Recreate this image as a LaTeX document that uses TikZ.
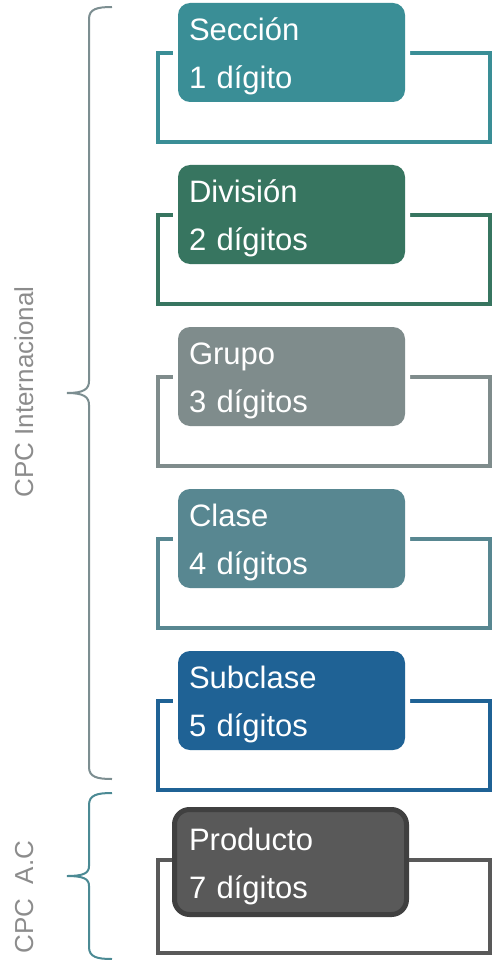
\documentclass[tikz,border=0pt]{standalone}
\usepackage{fontspec}
\setmainfont{Liberation Sans}
\definecolor{secc}{HTML}{3A8E96}
\definecolor{divc}{HTML}{377560}
\definecolor{grpc}{HTML}{7F8C8C}
\definecolor{clac}{HTML}{588791}
\definecolor{subc}{HTML}{1F6295}
\definecolor{proc}{HTML}{595959}
\definecolor{proline}{HTML}{404040}
\definecolor{labelgray}{HTML}{8C8C8C}
\definecolor{braceint}{HTML}{7C8E91}
\definecolor{braceac}{HTML}{4B8A94}
\begin{document}
\begin{tikzpicture}[
		x=1pt, y=-1pt,
		cpcbox/.style={rectangle, text=white, align=left, text height=31pt,
				font=\fontsize{31}{48}\selectfont},
		lvlbox/.style={cpcbox, fill=#1, rounded corners=12pt, text width=205pt, inner xsep=11pt,
				minimum height=99pt, preaction={draw=white, line width=10pt}},
		lvlframe/.style={rectangle, draw=#1, line width=4.5pt, minimum width=332pt,
				minimum height=89pt, inner sep=0pt},
		lbl/.style={rotate=90, anchor=base, text=labelgray, font=\fontsize{26}{30}\selectfont},
		brace/.style={draw=#1, line width=2pt}
	]
	\useasboundingbox (0,0) rectangle (492,960);
	% CPC Internacional
	\node[lvlframe=secc] (secF) at (324,97.5) {};
	\node[lvlbox=secc] (sec) at (291.5,52.5) {Sección\\1 dígito};
	\node[lvlframe=divc] (divF) at (324,259.5) {};
	\node[lvlbox=divc] (div) at (291.5,214.5) {División\\2 dígitos};
	\node[lvlframe=grpc] (grpF) at (324,421.5) {};
	\node[lvlbox=grpc] (grp) at (291.5,376.5) {Grupo\\3 dígitos};
	\node[lvlframe=clac] (claF) at (324,583.5) {};
	\node[lvlbox=clac] (cla) at (291.5,538.5) {Clase\\4 dígitos};
	\node[lvlframe=subc] (subF) at (324,745.5) {};
	\node[lvlbox=subc] (sub) at (291.5,700.5) {Subclase\\5 dígitos};
	% CPC A.C
	\node[lvlframe=proc, minimum height=93pt] (proF) at (324,906.5) {};
	\node[cpcbox, fill=proc, draw=proline, line width=5pt, rounded corners=15pt,
		text width=203pt, inner xsep=14.5pt, minimum height=105pt] (pro) at (290.5,862) {Producto\\7 dígitos};
	% braces and labels
	\draw[brace=braceint] (112,7) .. controls (97,7) and (89,9) .. (89,19) -- (89,381)
		.. controls (89,389) and (84,393) .. (67,393)
		.. controls (84,393) and (89,397) .. (89,405) -- (89,767)
		.. controls (89,777) and (97,779) .. (112,779);
	\draw[brace=braceac] (112,793) .. controls (97,793) and (89,795) .. (89,805) -- (89,866)
		.. controls (89,873) and (84,876) .. (67,876)
		.. controls (84,876) and (89,879) .. (89,886) -- (89,947)
		.. controls (89,957) and (97,959) .. (112,959);
	\node[lbl] (intl) at (33,392) {CPC Internacional};
	\node[lbl] (ac) at (33,897) {CPC\ \ A.C};
\end{tikzpicture}
\end{document}
